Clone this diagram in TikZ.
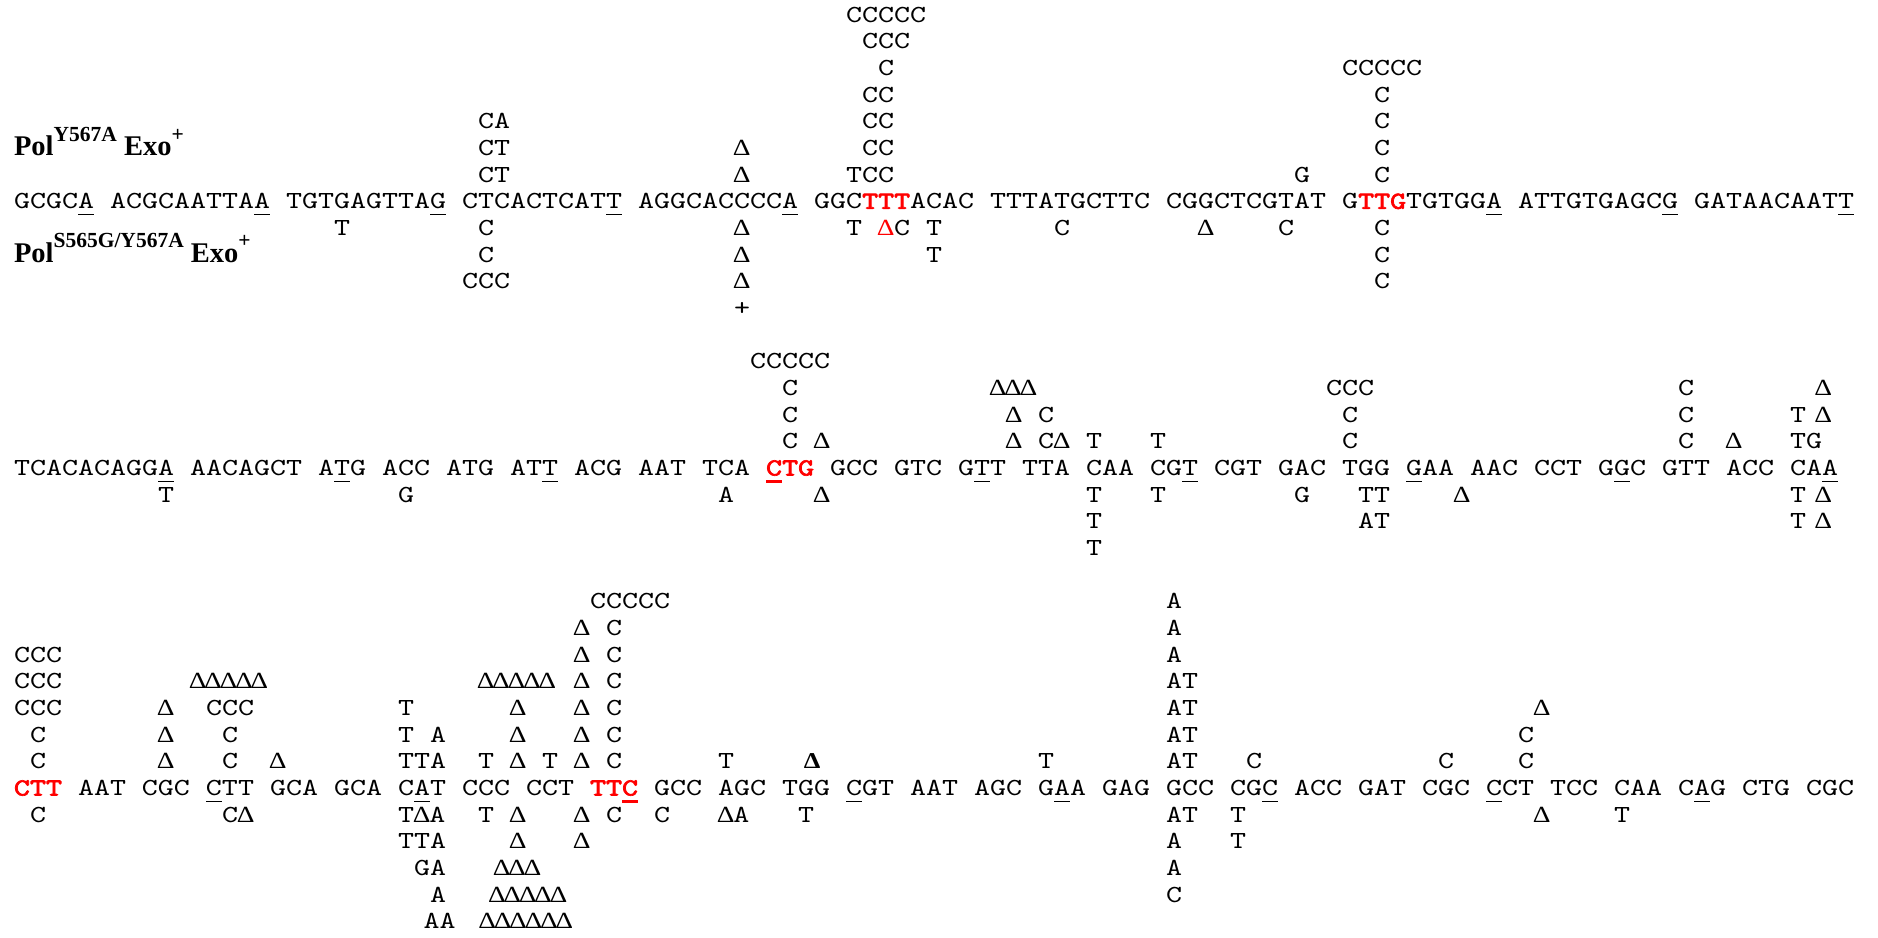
\documentclass[tikz,border=0pt]{standalone}
\usepackage{fontspec}
\usepackage{graphicx}
\setmainfont{Liberation Serif}
\newfontfamily\lmm{lmmono10-regular.otf}
\newfontfamily\lmb[FakeBold=2.5]{lmmono10-regular.otf}
\newfontfamily\dfont{Liberation Serif}
\newcounter{tn}
\def\Ba{208.8}\def\Bb{475.5}\def\Bc{795.5}
\def\VS{0.805}
\tikzset{
  mono/.style={anchor=base west, inner sep=0pt, outer sep=0pt, text=black,
    font=\lmm\fontsize{30.48}{30}\selectfont},
  redt/.style={mono, text=red},
  lab/.style={anchor=base west, inner sep=0pt, outer sep=0pt,
    font=\bfseries\fontsize{28.5}{28.5}\selectfont},
  ul/.style={line width=1.2pt, black},
  rul/.style={line width=2.6pt, red}
}
\newcommand\R[1]{{\color{red}\lmb #1}}
\newcommand\D{\makebox[15.4pt][c]{\fontsize{23}{23}\dfont\scalebox{1.2}[1.25]{Δ}}}
\newcommand\BD{\makebox[15.4pt][c]{\fontsize{23}{23}\dfont\bfseries\scalebox{1.15}[1.22]{Δ}}}
\newcommand\At[5][mono]{\stepcounter{tn}\node[#1] (n\arabic{tn}) at ({14+16*(#4)},{#2+26.67*(#3)}) {\scalebox{1}[\VS]{#5}};}
\newcommand\Ul[3][ul]{\draw[#1] ({14+16*(#3)},{#2+6}) -- ++(16,0);}
\newcommand\Sup[1]{\raisebox{14.3pt}{\fontsize{21.5}{21.5}\selectfont #1}}
\begin{document}
\begin{tikzpicture}[x=1pt,y=-1pt]
\useasboundingbox (0,0) rectangle (1878,937);
% labels
\node[lab] (lab1) at (14,155.5) {Pol\Sup{Y567A} Exo\Sup{+}};
\node[lab] (lab2) at (14,262.1) {Pol\Sup{S565G/Y567A} Exo\Sup{+}};
% ---------------- row 1 ----------------
\At{\Ba}{0}{0}{GCGCA ACGCAATTAA TGTGAGTTAG CTCACTCATT AGGCACCCCA GGC\R{TTT}ACAC TTTATGCTTC CGGCTCGTAT G\R{TTG}TGTGGA ATTGTGAGCG GATAACAATT}
\foreach \c in {4,15,26,37,48,92,103,114} {\Ul{\Ba}{\c}}
\At{\Ba}{-7}{52}{CCCCC}
\At{\Ba}{-6}{53}{CCC}
\At{\Ba}{-5}{54}{C}\At{\Ba}{-5}{83}{CCCCC}
\At{\Ba}{-4}{53}{CC}\At{\Ba}{-4}{85}{C}
\At{\Ba}{-3}{29}{CA}\At{\Ba}{-3}{53}{CC}\At{\Ba}{-3}{85}{C}
\At{\Ba}{-2}{29}{CT}\At{\Ba}{-2}{45}{\D}\At{\Ba}{-2}{53}{CC}\At{\Ba}{-2}{85}{C}
\At{\Ba}{-1}{29}{CT}\At{\Ba}{-1}{45}{\D}\At{\Ba}{-1}{52}{TCC}\At{\Ba}{-1}{80}{G}\At{\Ba}{-1}{85}{C}
\At{\Ba}{1}{20}{T}\At{\Ba}{1}{29}{C}\At{\Ba}{1}{45}{\D}\At{\Ba}{1}{52}{T}\At[redt]{\Ba}{1}{54}{\D}\At{\Ba}{1}{55}{C}\At{\Ba}{1}{57}{T}\At{\Ba}{1}{65}{C}\At{\Ba}{1}{74}{\D}\At{\Ba}{1}{79}{C}\At{\Ba}{1}{85}{C}
\At{\Ba}{2}{29}{C}\At{\Ba}{2}{45}{\D}\At{\Ba}{2}{57}{T}\At{\Ba}{2}{85}{C}
\At{\Ba}{3}{28}{CCC}\At{\Ba}{3}{45}{\D}\At{\Ba}{3}{85}{C}
\At{\Ba}{4}{45}{+}
% ---------------- row 2 ----------------
\At{\Bb}{0}{0}{TCACACAGGA AACAGCT ATG ACC ATG ATT ACG AAT TCA \R{CTG} GCC GTC GTT TTA CAA CGT CGT GAC TGG GAA AAC CCT GGC GTT ACC CAA}
\foreach \c in {9,20,33,60,73,87,100,113} {\Ul{\Bb}{\c}}
\Ul[rul]{\Bb}{47}
\At{\Bb}{-4}{46}{CCCCC}
\At{\Bb}{-3}{48}{C}\At{\Bb}{-3}{61}{\D\D\D}\At{\Bb}{-3}{82}{CCC}\At{\Bb}{-3}{104}{C}\At{\Bb}{-3}{112.6}{\D}
\At{\Bb}{-2}{48}{C}\At{\Bb}{-2}{62}{\D}\At{\Bb}{-2}{64}{C}\At{\Bb}{-2}{83}{C}\At{\Bb}{-2}{104}{C}\At{\Bb}{-2}{111}{T}\At{\Bb}{-2}{112.6}{\D}
\At{\Bb}{-1}{48}{C}\At{\Bb}{-1}{50}{\D}\At{\Bb}{-1}{62}{\D}\At{\Bb}{-1}{64}{C\D}\At{\Bb}{-1}{67}{T}\At{\Bb}{-1}{71}{T}\At{\Bb}{-1}{83}{C}\At{\Bb}{-1}{104}{C}\At{\Bb}{-1}{107}{\D}\At{\Bb}{-1}{111}{TG}
\At{\Bb}{1}{9}{T}\At{\Bb}{1}{24}{G}\At{\Bb}{1}{44}{A}\At{\Bb}{1}{50}{\D}\At{\Bb}{1}{67}{T}\At{\Bb}{1}{71}{T}\At{\Bb}{1}{80}{G}\At{\Bb}{1}{84}{TT}\At{\Bb}{1}{90}{\D}\At{\Bb}{1}{111}{T}\At{\Bb}{1}{112.6}{\D}
\At{\Bb}{2}{67}{T}\At{\Bb}{2}{84}{AT}\At{\Bb}{2}{111}{T}\At{\Bb}{2}{112.6}{\D}
\At{\Bb}{3}{67}{T}
% ---------------- row 3 ----------------
\At{\Bc}{0}{0}{\R{CTT} AAT CGC CTT GCA GCA CAT CCC CCT \R{TTC} GCC AGC TGG CGT AAT AGC GAA GAG GCC CGC ACC GAT CGC CCT TCC CAA CAG CTG CGC}
\foreach \c in {12,25,52,65,78,92,105} {\Ul{\Bc}{\c}}
\Ul[rul]{\Bc}{38}
\At{\Bc}{-7}{36}{CCCCC}\At{\Bc}{-7}{72}{A}
\At{\Bc}{-6}{35}{\D}\At{\Bc}{-6}{37}{C}\At{\Bc}{-6}{72}{A}
\At{\Bc}{-5}{0}{CCC}\At{\Bc}{-5}{35}{\D}\At{\Bc}{-5}{37}{C}\At{\Bc}{-5}{72}{A}
\At{\Bc}{-4}{0}{CCC}\At{\Bc}{-4}{11}{\D\D\D\D\D}\At{\Bc}{-4}{29}{\D\D\D\D\D}\At{\Bc}{-4}{35}{\D}\At{\Bc}{-4}{37}{C}\At{\Bc}{-4}{72}{AT}
\At{\Bc}{-3}{0}{CCC}\At{\Bc}{-3}{9}{\D}\At{\Bc}{-3}{12}{CCC}\At{\Bc}{-3}{24}{T}\At{\Bc}{-3}{31}{\D}\At{\Bc}{-3}{35}{\D}\At{\Bc}{-3}{37}{C}\At{\Bc}{-3}{72}{AT}\At{\Bc}{-3}{95}{\D}
\At{\Bc}{-2}{1}{C}\At{\Bc}{-2}{9}{\D}\At{\Bc}{-2}{13}{C}\At{\Bc}{-2}{24}{T}\At{\Bc}{-2}{26}{A}\At{\Bc}{-2}{31}{\D}\At{\Bc}{-2}{35}{\D}\At{\Bc}{-2}{37}{C}\At{\Bc}{-2}{72}{AT}\At{\Bc}{-2}{94}{C}
\At{\Bc}{-1}{1}{C}\At{\Bc}{-1}{9}{\D}\At{\Bc}{-1}{13}{C}\At{\Bc}{-1}{16}{\D}\At{\Bc}{-1}{24}{TTA}\At{\Bc}{-1}{29}{T}\At{\Bc}{-1}{31}{\D}\At{\Bc}{-1}{33}{T}\At{\Bc}{-1}{35}{\D}\At{\Bc}{-1}{37}{C}\At{\Bc}{-1}{44}{T}\At{\Bc}{-1}{49.4}{\BD}\At{\Bc}{-1}{64}{T}\At{\Bc}{-1}{72}{AT}\At{\Bc}{-1}{77}{C}\At{\Bc}{-1}{89}{C}\At{\Bc}{-1}{94}{C}
\At{\Bc}{1}{1}{C}\At{\Bc}{1}{13}{C\D}\At{\Bc}{1}{24}{T\D A}\At{\Bc}{1}{29}{T}\At{\Bc}{1}{31}{\D}\At{\Bc}{1}{35}{\D}\At{\Bc}{1}{37}{C}\At{\Bc}{1}{40}{C}\At{\Bc}{1}{44}{\D A}\At{\Bc}{1}{49}{T}\At{\Bc}{1}{72}{AT}\At{\Bc}{1}{76}{T}\At{\Bc}{1}{95}{\D}\At{\Bc}{1}{100}{T}
\At{\Bc}{2}{24}{TTA}\At{\Bc}{2}{31}{\D}\At{\Bc}{2}{35}{\D}\At{\Bc}{2}{72}{A}\At{\Bc}{2}{76}{T}
\At{\Bc}{3}{25}{GA}\At{\Bc}{3}{30}{\D\D\D}\At{\Bc}{3}{72}{A}
\At{\Bc}{4}{26}{A}\At{\Bc}{4}{29.7}{\D\D\D\D\D}\At{\Bc}{4}{72}{C}
\At{\Bc}{5}{25.6}{AA}\At{\Bc}{5}{29.1}{\D\D\D\D\D\D}
\end{tikzpicture}
\end{document}
